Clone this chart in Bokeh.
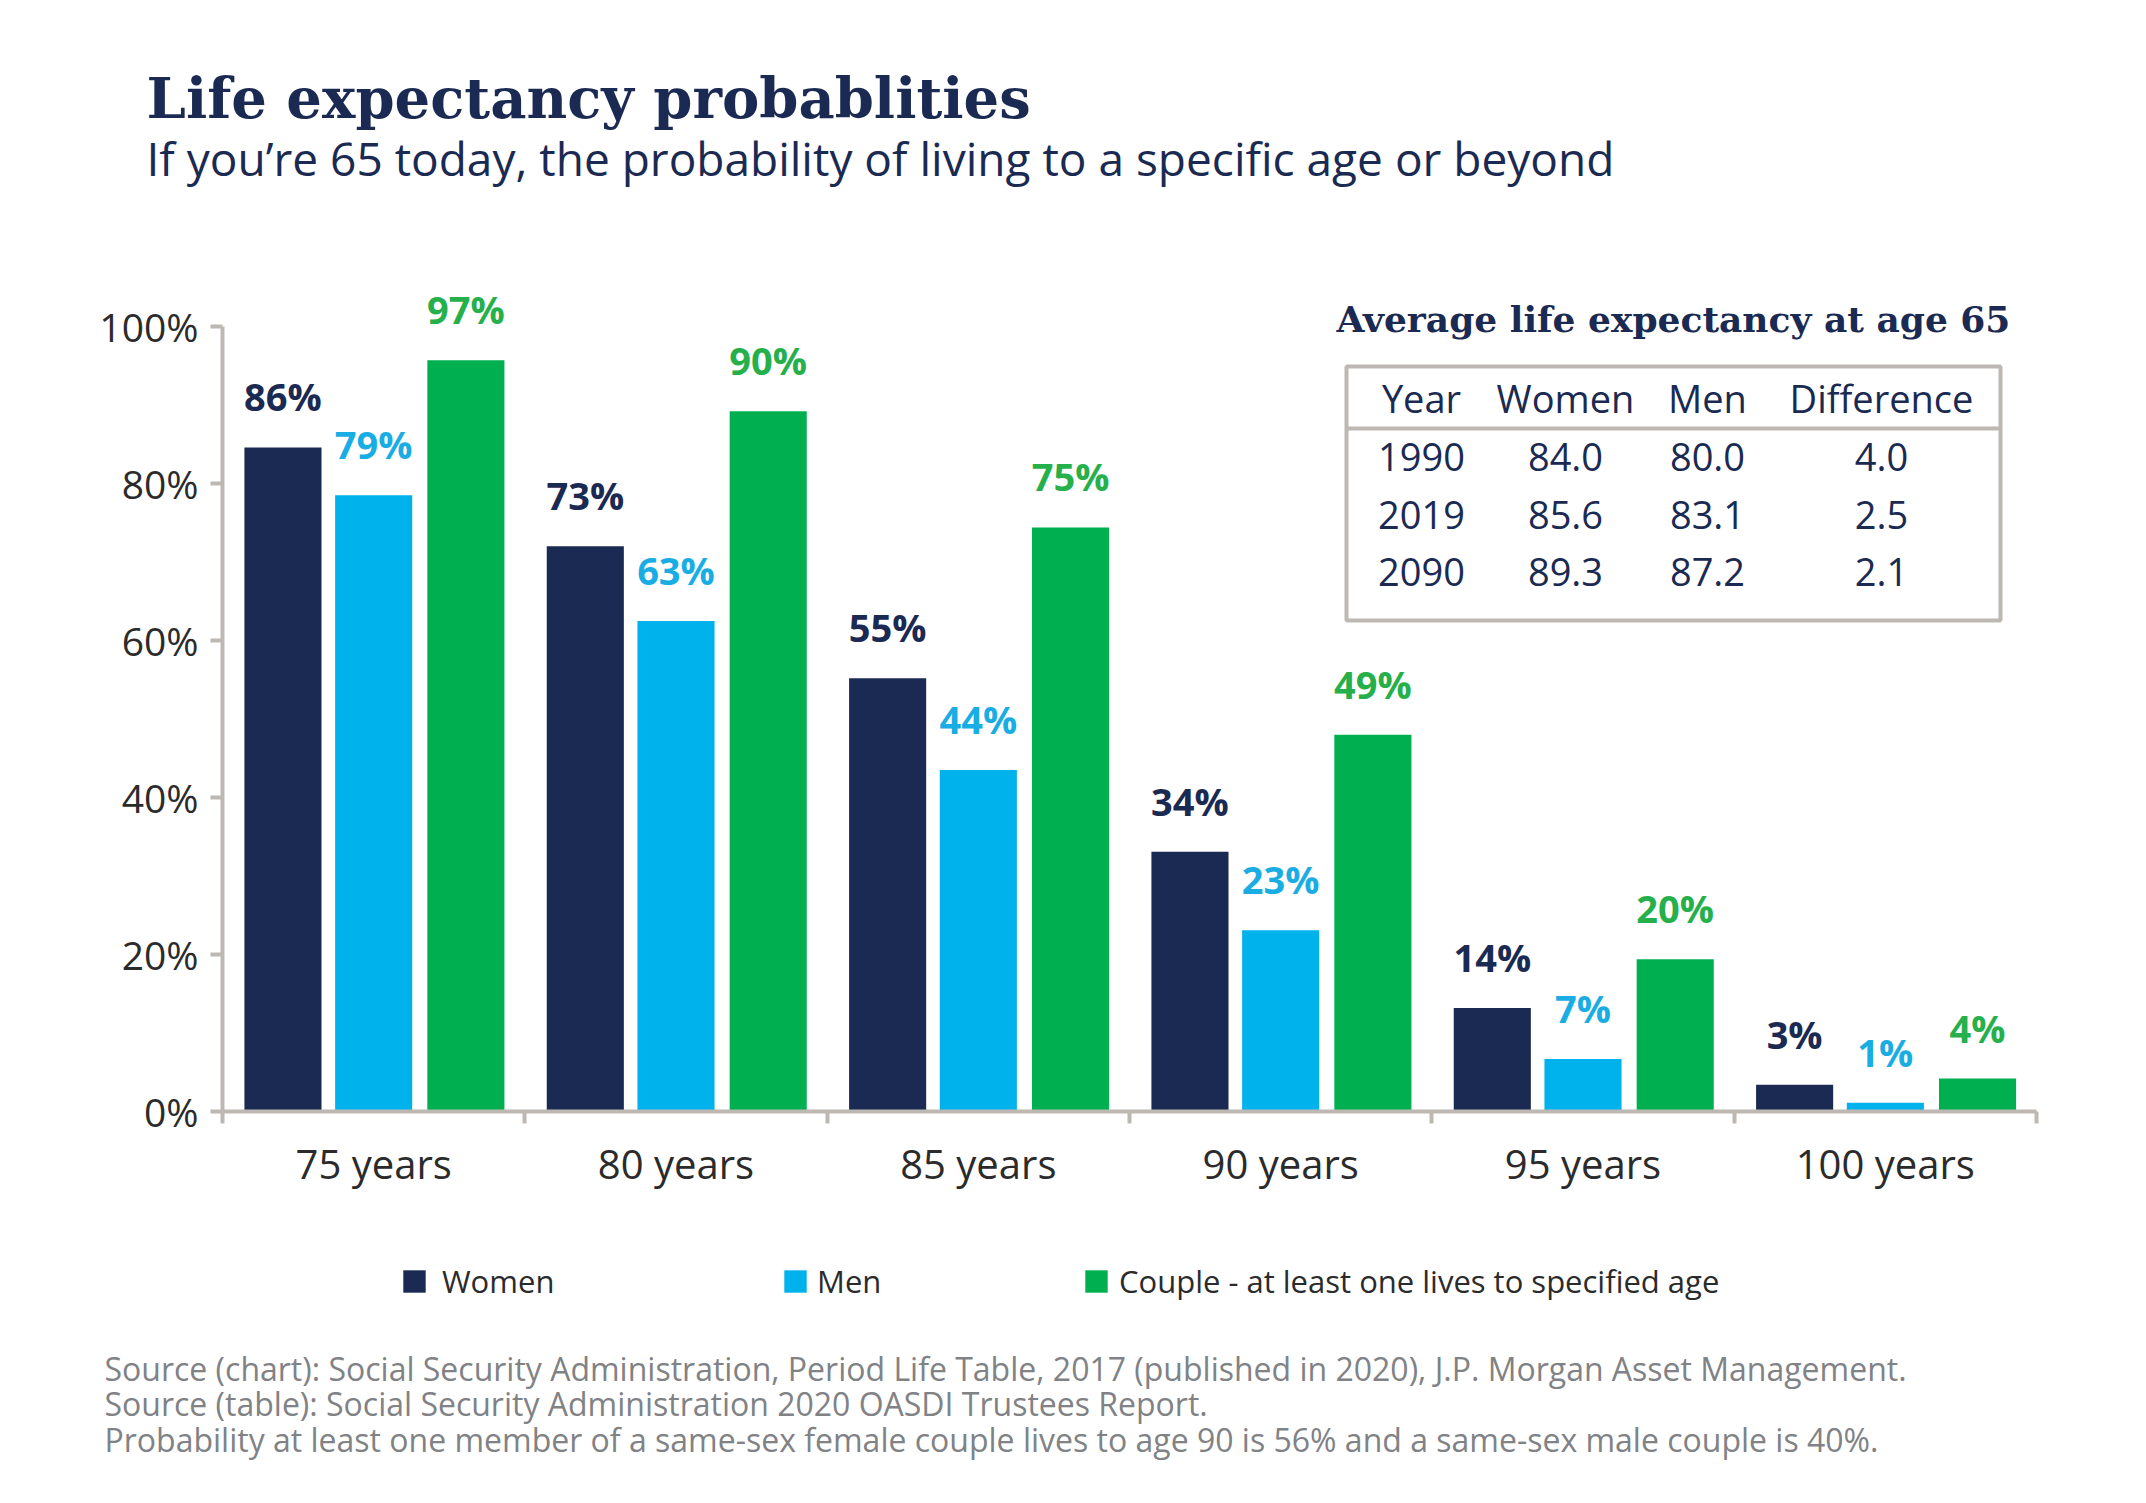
from bokeh.plotting import figure
from bokeh.models import (Range1d, FixedTicker, PrintfTickFormatter, LabelSet,
                          ColumnDataSource, Legend, LegendItem)
from bokeh.core.properties import value
from bokeh.transform import dodge
from bokeh.embed import file_html
from bokeh.resources import INLINE

# ---------------- data ----------------
categories = ["75 years", "80 years", "85 years", "90 years", "95 years", "100 years"]
women = [84.6, 72.0, 55.2, 33.1, 13.2, 3.4]
men = [78.5, 62.5, 43.5, 23.1, 6.7, 1.1]
couple = [95.7, 89.2, 74.4, 48.0, 19.4, 4.2]
women_labels = ["86%", "73%", "55%", "34%", "14%", "3%"]
men_labels = ["79%", "63%", "44%", "23%", "7%", "1%"]
couple_labels = ["97%", "90%", "75%", "49%", "20%", "4%"]
series_names = ["Women", "Men", "Couple - at least one lives to specified age"]
y_ticks = [0, 20, 40, 60, 80, 100]

table_title = "Average life expectancy at age 65"
table_header = ["Year", "Women", "Men", "Difference"]
table_years = ["1990", "2019", "2090"]
table_women = ["84.0", "85.6", "89.3"]
table_men = ["80.0", "83.1", "87.2"]
table_diff = ["4.0", "2.5", "2.1"]

title = "Life expectancy probablities"
subtitle = "If you\u2019re 65 today, the probability of living to a specific age or beyond"
footer = [
    "Source (chart): Social Security Administration, Period Life Table, 2017 (published in 2020), J.P. Morgan Asset Management.",
    "Source (table): Social Security Administration 2020 OASDI Trustees Report.",
    "Probability at least one member of a same-sex female couple lives to age 90 is 56% and a same-sex male couple is 40%.",
]

# ---------------- styles / layout ----------------
NAVY = "#1B2A52"
CYAN = "#00B2EC"
GREEN = "#00B050"
CYAN_TXT = "#1AADE4"
GREEN_TXT = "#25B04B"
GRAY = "#BDB8B1"
TXT = "#2B2B2B"
FOOT = "#808285"
SANS = "Open Sans"
SLAB = "DejaVu Serif"

W, H = 2140, 1495
X0, Y0 = 222, 1111          # canvas position of data (0, 0)
PX_X = (2036 - 222) / len(categories)   # pixels per category
PX_Y = 7.85                 # pixels per percentage point


def dx(px):
    return (px - X0) / PX_X


def dy(py):
    return (Y0 - py) / PX_Y


p = figure(width=W, height=H,
           x_range=Range1d(dx(0), dx(W)), y_range=Range1d(dy(H), dy(0)),
           output_backend="svg", toolbar_location=None, tools="",
           min_border_left=0, min_border_right=0, min_border_top=0, min_border_bottom=0)
p.outline_line_color = None
p.xgrid.visible = False
p.ygrid.visible = False
p.background_fill_color = "white"
p.border_fill_color = "white"

# x axis
xa = p.xaxis[0]
xa.fixed_location = 0
xa.bounds = (0, len(categories))
xa.ticker = FixedTicker(ticks=[i + 0.5 for i in range(len(categories))],
                        minor_ticks=list(range(len(categories) + 1)))
xa.major_label_overrides = {i + 0.5: c for i, c in enumerate(categories)}
xa.major_tick_line_color = None
xa.major_tick_out = 0
xa.major_tick_in = 0
xa.minor_tick_out = 12
xa.minor_tick_in = 0
xa.minor_tick_line_color = GRAY
xa.minor_tick_line_width = 4
xa.axis_line_color = GRAY
xa.axis_line_width = 4
xa.major_label_text_font = SANS
xa.major_label_text_font_size = "40px"
xa.major_label_text_color = TXT
xa.major_label_standoff = 12

# y axis
ya = p.yaxis[0]
ya.fixed_location = 0
ya.ticker = FixedTicker(ticks=y_ticks)
ya.formatter = PrintfTickFormatter(format="%d%%")
ya.bounds = (0, 100)
ya.major_tick_out = 12
ya.major_tick_in = 0
ya.major_tick_line_color = GRAY
ya.major_tick_line_width = 4
ya.minor_tick_line_color = None
ya.axis_line_color = GRAY
ya.axis_line_width = 4
ya.major_label_text_font = SANS
ya.major_label_text_font_size = "39px"
ya.major_label_text_color = TXT
ya.major_label_standoff = 12

# bars
src = ColumnDataSource(dict(
    x=[i + 0.5 for i in range(len(categories))],
    women=women, men=men, couple=couple,
    wl=women_labels, ml=men_labels, cl=couple_labels,
))
OFFS = [-0.3, 0.0, 0.305]
BW = 0.255
rw = p.vbar(x=dodge("x", OFFS[0]), top="women", width=BW, source=src,
            fill_color=NAVY, line_color=None)
rm = p.vbar(x=dodge("x", OFFS[1]), top="men", width=BW, source=src,
            fill_color=CYAN, line_color=None)
rc = p.vbar(x=dodge("x", OFFS[2]), top="couple", width=BW, source=src,
            fill_color=GREEN, line_color=None)

for off, col, lab, colr in [(OFFS[0], "women", "wl", NAVY),
                            (OFFS[1], "men", "ml", CYAN_TXT),
                            (OFFS[2], "couple", "cl", GREEN_TXT)]:
    p.add_layout(LabelSet(x=dodge("x", off), y=col, text=lab, source=src,
                          y_offset=36, text_align="center", text_baseline="alphabetic",
                          text_font=value(SANS), text_font_style="bold",
                          text_font_size=value("38px"), text_color=colr))

# legend (three entries at their own positions)
for r, name, px, standoff in [(rw, series_names[0], 400, 14),
                              (rm, series_names[1], 781, 8),
                              (rc, series_names[2], 1082, 9)]:
    leg = Legend(items=[LegendItem(label=name, renderers=[r])],
                 location=(px, H - 1302),
                 orientation="horizontal", glyph_width=28, glyph_height=28,
                 label_height=28, label_standoff=standoff, padding=0, margin=0, spacing=0,
                 border_line_color=None, background_fill_alpha=0,
                 label_text_font=SANS, label_text_font_size="31px", label_text_color=TXT)
    p.add_layout(leg)


def put_text(xs, ys, texts, font, size, color, align="left", style="normal"):
    s = ColumnDataSource(dict(x=xs, y=ys, t=texts))
    p.add_layout(LabelSet(x="x", y="y", text="t", source=s,
                          text_font=value(font), text_font_size=value(size),
                          text_color=color, text_align=align, text_baseline="alphabetic",
                          text_font_style=style))


# titles
put_text([dx(146)], [dy(117)], [title], SLAB, "56px", NAVY, style="bold")
put_text([dx(146)], [dy(175)], [subtitle], SANS, "46px", NAVY)

# footer
put_text([dx(104)] * 3, [dy(b) for b in [1380, 1415, 1451]], footer, SANS, "32px", FOOT)

# table
put_text([dx(1673)], [dy(331)], [table_title], SLAB, "36px", NAVY, align="center", style="bold")
p.quad(left=[dx(1346)], right=[dx(2000)], top=[dy(366)], bottom=[dy(620)],
       fill_color=None, line_color=GRAY, line_width=4)
p.segment(x0=[dx(1346)], x1=[dx(2000)], y0=[dy(428)], y1=[dy(428)],
          line_color=GRAY, line_width=4)
col_x = [1421, 1565, 1707, 1881]
put_text([dx(c) for c in col_x], [dy(412)] * 4, table_header, SANS, "38px", NAVY, align="center")
row_y = [470, 528, 585]
for i, ry in enumerate(row_y):
    put_text([dx(c) for c in col_x], [dy(ry)] * 4,
             [table_years[i], table_women[i], table_men[i], table_diff[i]],
             SANS, "38px", NAVY, align="center")

open("out.html", "w").write(file_html(p, INLINE))
